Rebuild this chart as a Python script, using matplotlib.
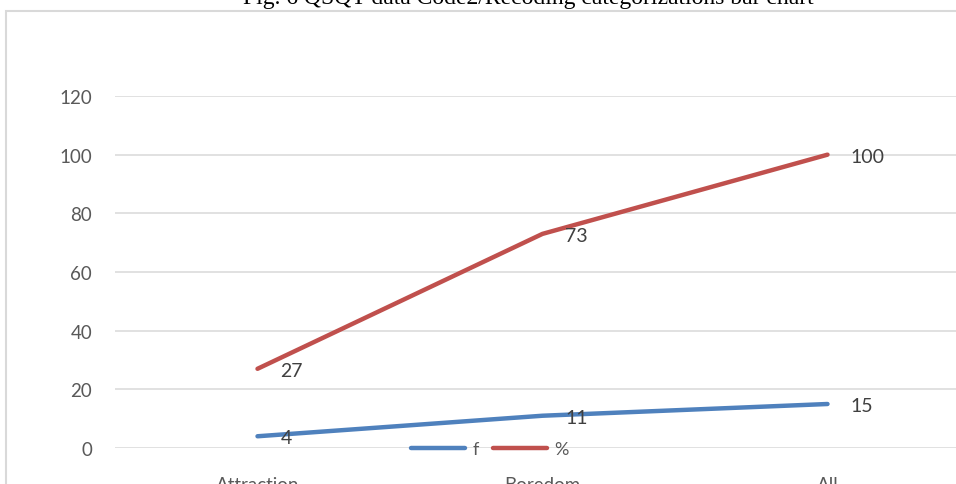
import matplotlib
matplotlib.use("Agg")
import matplotlib.pyplot as plt
from matplotlib.patches import Rectangle
from matplotlib.lines import Line2D

categories = ["Attraction", "Boredom", "All"]
f_values = [4, 11, 15]
pct_values = [27, 73, 100]
series_names = ["f", "%"]
yticks = [0, 20, 40, 60, 80, 100, 120]
title = "Fig. 6 QSQT data Code2/Recoding categorizations bar chart"

W, H = 956, 485
fig = plt.figure(figsize=(W / 100, H / 100), dpi=100)
fig.patch.set_facecolor("white")

# chart frame (cut off at right and bottom)
fig.patches.append(Rectangle((5.5 / W, -0.2), 1.2, 1 - 11.5 / H + 0.2,
                             transform=fig.transFigure, fill=False,
                             edgecolor="#D9D9D9", linewidth=1.5))

fig.text(528 / W, 1 - 4 / H, title, ha="center", va="baseline",
         fontsize=17, family="Liberation Serif", color="black")

ax = fig.add_axes([115 / W, (H - 449) / H, (W - 115) / W, 352 / H])
ax.set_facecolor("none")
x = list(range(len(categories)))
blue = "#4F81BD"
red = "#C0504D"
ax.plot(x, f_values, color=blue, lw=3.2, solid_capstyle="round", zorder=3, clip_on=False)
ax.plot(x, pct_values, color=red, lw=3.2, solid_capstyle="round", zorder=3, clip_on=False)

ax.set_xlim(-0.5, -0.5 + (W - 115) / 285)
ax.set_ylim(0, 120)
ax.set_yticks(yticks)
ax.set_yticklabels([str(v) for v in yticks])
ax.set_xticks(x)
ax.set_xticklabels(categories)
for s in ax.spines.values():
    s.set_visible(False)
ax.grid(axis="y", color="#D9D9D9", lw=1.1, zorder=0)
ax.set_axisbelow(True)
ax.tick_params(axis="y", length=0, pad=16.5, labelsize=13.5, labelcolor="#595959")
ax.tick_params(axis="x", length=0, pad=20, labelsize=13.5, labelcolor="#595959")
for lab in ax.get_xticklabels() + ax.get_yticklabels():
    lab.set_family("Lato")

for xi, v in zip(x, f_values):
    ax.annotate(str(v), (xi, v), xytext=(16.5, -1), textcoords="offset points",
                ha="left", va="center", fontsize=14, color="#404040", family="Lato")
for xi, v in zip(x, pct_values):
    ax.annotate(str(v), (xi, v), xytext=(16.5, -1), textcoords="offset points",
                ha="left", va="center", fontsize=14, color="#404040", family="Lato")

handles = [Line2D([], [], color=blue, lw=3.2, solid_capstyle="round"),
           Line2D([], [], color=red, lw=3.2, solid_capstyle="round")]
leg = fig.legend(handles, series_names, loc="center", bbox_to_anchor=(490 / W, (H - 450) / H),
                 ncol=2, frameon=False, handlelength=3.0, handletextpad=0.4,
                 columnspacing=0.8, prop={"family": "Lato", "size": 13})
for t in leg.get_texts():
    t.set_color("#595959")

fig.savefig("out.png", dpi=100)
